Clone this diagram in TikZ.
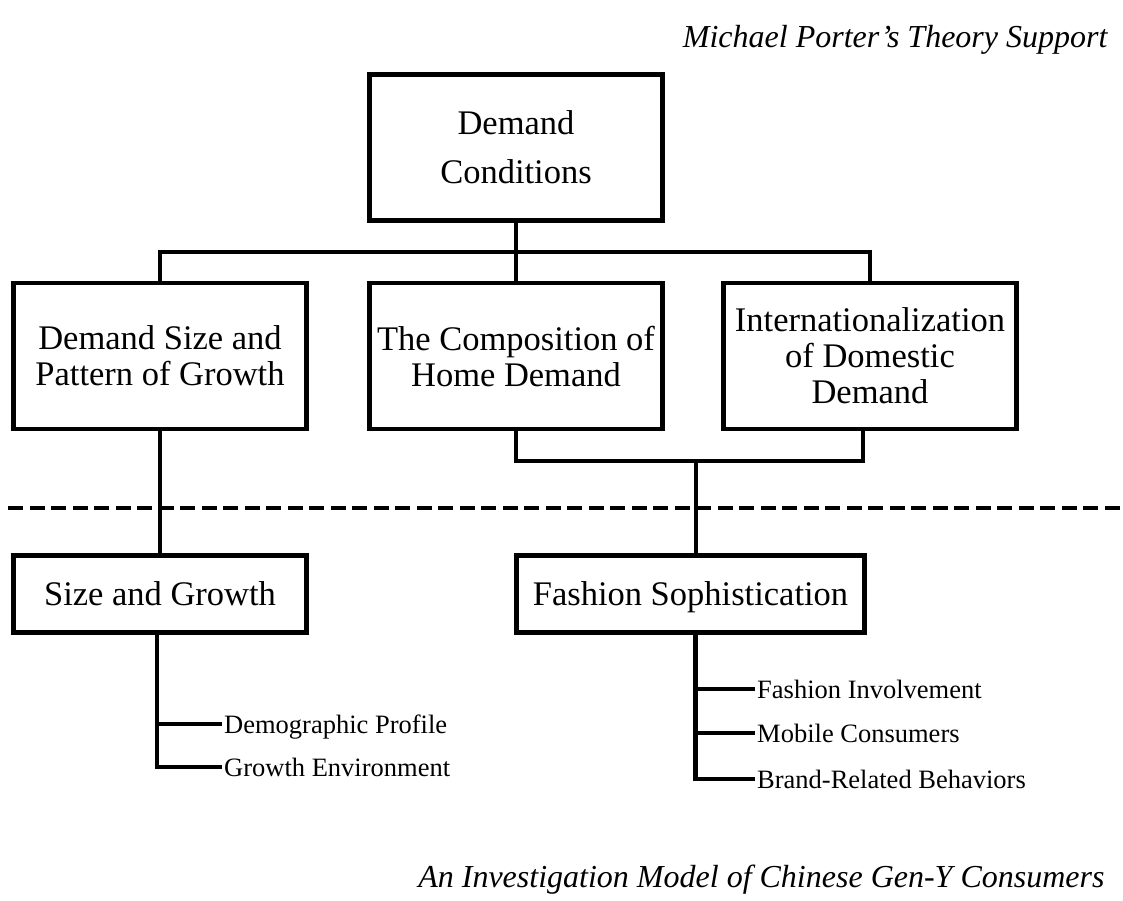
\documentclass[tikz,border=0pt]{standalone}
\usepackage{fontspec}
\setmainfont{Liberation Serif}
\usepackage{tikz}

\begin{document}
\begin{tikzpicture}[x=1pt,y=-1pt,
    box/.style={draw,line width=4.5pt,align=center,inner sep=0pt,
      minimum width=293pt,minimum height=146pt,text depth=0pt,
      font=\fontsize{34.5}{36}\selectfont},
    smallbox/.style={box,minimum height=77pt},
    leaf/.style={anchor=west,inner sep=2pt,text height=18pt,text depth=0pt,
      font=\fontsize{26.5}{30}\selectfont},
    title/.style={anchor=base east,font=\fontsize{32}{36}\selectfont\itshape},
    link/.style={line width=4.5pt}]
  \useasboundingbox (0,0) rectangle (1123,900);

  \node[title] (porter) at (1111,47) {Michael Porter’s Theory Support};
  \node[title] (model) at (1108,887) {An Investigation Model of Chinese Gen-Y Consumers};

  \node[box,font=\fontsize{34.5}{49}\selectfont] (dc) at (516,147.3) {Demand\\Conditions};
  \node[box] (dsize) at (160,356) {Demand Size and\\Pattern of Growth};
  \node[box] (dcomp) at (516,356) {The Composition of\\Home Demand};
  \node[box] (dint) at (870,356) {Internationalization\\of Domestic\\Demand};

  \node[smallbox] (sg) at (160,594) {Size and Growth};
  \node[smallbox,minimum width=348pt] (fs) at (690.5,594) {Fashion Sophistication};

  \node[leaf] (demo) at (222,724) {Demographic Profile};
  \node[leaf] (genv) at (222,767) {Growth Environment};
  \node[leaf] (finv) at (755,689) {Fashion Involvement};
  \node[leaf] (mobc) at (755,733) {Mobile Consumers};
  \node[leaf] (brnd) at (755,779) {Brand-Related Behaviors};

  \coordinate (split) at (516,252);
  \coordinate (merge) at (696,461);

  \draw[link] (dc.south) -- (dcomp.north);
  \draw[link] (dsize.north) |- (split) -| (dint.north);
  \draw[link] (dcomp.south) |- (merge) -| ([xshift=-7pt]dint.south);
  \draw[link] (merge) -- (merge |- fs.north);
  \draw[link] (dsize.south) -- (sg.north);

  \draw[line width=3.3pt,dash pattern=on 15pt off 6.5pt] (8,508) -- (1123,508);

  \foreach \leaf in {demo,genv}
    \draw[link] ([xshift=-3pt]sg.south) |- (\leaf.west);
  \foreach \leaf in {finv,mobc,brnd}
    \draw[link] ([xshift=5pt]fs.south) |- (\leaf.west);
\end{tikzpicture}
\end{document}
